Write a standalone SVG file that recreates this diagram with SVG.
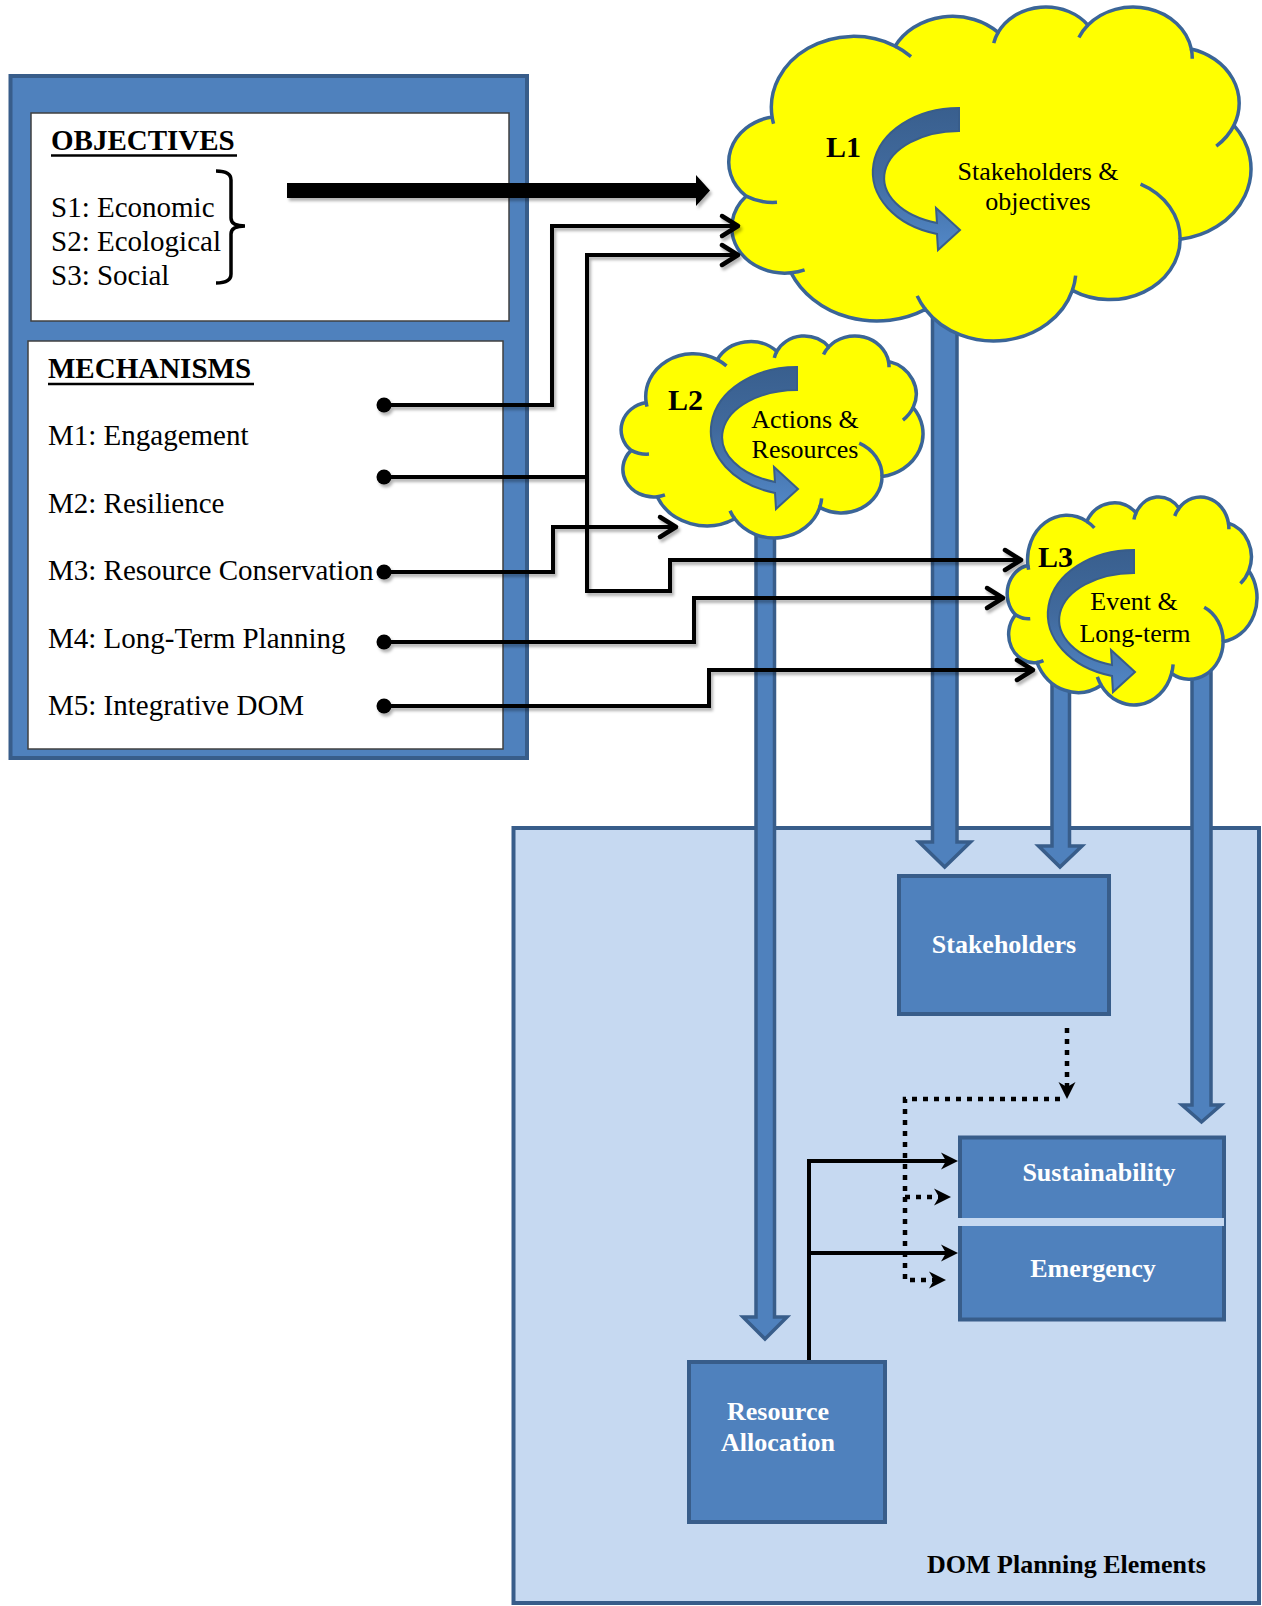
<svg xmlns="http://www.w3.org/2000/svg" width="1262" height="1606" viewBox="0 0 1262 1606">
  <style>
    text { font-family: 'Liberation Serif', 'Times New Roman', serif; fill: #000; }
    .panel-text { font-size: 29px; }
    .heading { font-size: 29px; font-weight: bold; }
    .uline { stroke: #000; stroke-width: 2.5; }
    .frame { fill: #4F81BD; stroke: #385D8A; stroke-width: 4; }
    .white-box { fill: #FFFFFF; stroke: #404040; stroke-width: 1.5; }
    .cloud { fill: #FFFF00; stroke: #3B6597; stroke-width: 3.5; }
    .crease { fill: none; stroke: #3B6597; stroke-width: 3.5; }
    .loop { fill: url(#loopGrad); stroke: #385D8A; stroke-width: 2; }
    .cloud-label { font-size: 30px; font-weight: bold; }
    .cloud-text { font-size: 26px; text-anchor: middle; }
    .block-arrow { fill: #4F81BD; stroke: #385D8A; stroke-width: 3.5; stroke-linejoin: miter; }
    .element { fill: #4F81BD; stroke: #385D8A; stroke-width: 4; }
    .box-text { font-size: 26px; font-weight: bold; fill: #FFFFFF; text-anchor: middle; }
    .link { fill: none; stroke: #000; stroke-width: 4; stroke-linejoin: miter; }
    .dotted { fill: none; stroke: #000; stroke-width: 4.5; stroke-dasharray: 5 6; }
  </style>
  <defs>
    <!-- cloud outline in a 432 x 432 unit box -->
    <path id="cloudBody" vector-effect="non-scaling-stroke" d="M39,143.7 A67.53,91.9 0 0 1 140.05,52.02 A53.33,72.67 0 0 1 224.58,34.33 A43.65,59.45 0 0 1 298.34,24.79 A48.57,65.95 0 0 1 383.2,55.74 A53.33,72.73 0 0 1 418.2,154.58 A67.75,92.2 0 0 1 374.06,302.01 A57.85,78.67 0 0 1 285.57,368.11 A67.52,92.15 0 0 1 164.83,392.64 A77.2,105.43 0 0 1 54.59,345.41 A43.6,59.18 0 0 1 17.67,246.21 A43.45,59.45 0 0 1 39,143.7 Z"/>
    <!-- short inner arcs where the cloud bumps meet -->
    <path id="cloudCreases" vector-effect="non-scaling-stroke" d="M43.01,254.18 A43.45,59.45 0 0 1 17.67,246.21 M65.68,341.59 A43.6,59.18 0 0 1 54.59,345.41 M164.83,392.64 A67.52,92.15 0 0 1 158.14,375.23 M288.24,349.02 A67.52,92.15 0 0 1 285.57,368.11 M341.54,230.65 A57.85,78.67 0 0 1 374.06,302.01 M418.2,154.58 A53.33,72.73 0 0 1 403.71,181.35 M383.2,55.74 A48.57,65.95 0 0 1 383.96,68.38 M290.92,40.92 A48.57,65.95 0 0 1 298.34,24.79 M220.99,48.22 A43.65,59.45 0 0 1 224.58,34.33 M140.05,52.02 A67.53,91.9 0 0 1 153.07,65.53 M40.22,152.61 A67.53,91.9 0 0 1 39,143.7"/>
    <linearGradient id="loopGrad" x1="0" y1="0" x2="0" y2="1">
      <stop offset="0" stop-color="#395F8E"/>
      <stop offset="0.45" stop-color="#416A9D"/>
      <stop offset="1" stop-color="#5288C8"/>
    </linearGradient>
    <!-- curved loop arrow, origin at the outer corner of its flat end -->
    <path id="loopArrow" d="M0,0 A86,64 0 0 0 -22,125.9 L-21,142 L1,122 L-23,100 L-22,114.9 A75,47 0 0 1 0,23 Z"/>
    <marker id="chevron" markerUnits="userSpaceOnUse" viewBox="-22 -14 26 28" markerWidth="26" markerHeight="28" refX="0" refY="0" orient="auto" overflow="visible">
      <path d="M-16,-10 L0,0 L-16,10" fill="none" stroke="#000" stroke-width="4.5" stroke-linecap="round" stroke-linejoin="round"/>
    </marker>
    <marker id="dot" markerUnits="userSpaceOnUse" viewBox="-9 -9 18 18" markerWidth="18" markerHeight="18" refX="0" refY="0" overflow="visible">
      <circle cx="0" cy="0" r="7.5" fill="#000"/>
    </marker>
    <marker id="stealth" markerUnits="userSpaceOnUse" viewBox="-20 -10 22 20" markerWidth="22" markerHeight="20" refX="-6" refY="0" orient="auto" overflow="visible">
      <path d="M0,0 L-17,-8.5 L-12,0 L-17,8.5 Z" fill="#000"/>
    </marker>
    <filter id="lineShadow" filterUnits="userSpaceOnUse" x="0" y="0" width="1262" height="1606">
      <feDropShadow dx="2" dy="3" stdDeviation="1.6" flood-color="#000" flood-opacity="0.3"/>
    </filter>
  </defs>

  <!-- DOM planning area -->
  <g id="dom-area">
    <rect x="513.5" y="828" width="745.5" height="775" fill="#C6D9F1" stroke="#385D8A" stroke-width="4"/>
    <text x="927" y="1573" font-size="26" font-weight="bold">DOM Planning Elements</text>
  </g>

  <!-- block arrows from the levels down into the planning elements -->
  <g id="level-flows">
    <path class="block-arrow" d="M932.5,290 V842 H919 L944.7,867 L970.5,842 H957 V290 Z"/>
    <path class="block-arrow" d="M756,515 V1317 H743 L765,1339 L787,1317 H774.5 V515 Z"/>
    <path class="block-arrow" d="M1052,665 V846 H1038.5 L1060,867 L1082,846 H1069.5 V665 Z"/>
    <path class="block-arrow" d="M1192,650 V1105 H1182 L1201.5,1122 L1221,1105 H1211 V650 Z"/>
  </g>

  <!-- level clouds -->
  <g id="cloud-L1">
    <use href="#cloudBody" class="cloud" transform="translate(724.6,5.9) scale(1.2179,0.7728)"/>
    <use href="#cloudCreases" class="crease" transform="translate(724.6,5.9) scale(1.2179,0.7728)"/>
    <use href="#loopArrow" class="loop" transform="translate(959,108)"/>
    <text class="cloud-label" x="826" y="157">L1</text>
    <text class="cloud-text" x="1038" y="180">Stakeholders &amp;</text>
    <text class="cloud-text" x="1038" y="210">objectives</text>
  </g>
  <g id="cloud-L2">
    <use href="#cloudBody" class="cloud" transform="translate(618.7,335.3) scale(0.7041,0.4674)"/>
    <use href="#cloudCreases" class="crease" transform="translate(618.7,335.3) scale(0.7041,0.4674)"/>
    <use href="#loopArrow" class="loop" transform="translate(797,367)"/>
    <text class="cloud-label" x="668" y="410">L2</text>
    <text class="cloud-text" x="805" y="428">Actions &amp;</text>
    <text class="cloud-text" x="805" y="458">Resources</text>
  </g>
  <g id="cloud-L3">
    <use href="#cloudBody" class="cloud" transform="translate(1005.2,496.3) scale(0.5826,0.4813)"/>
    <use href="#cloudCreases" class="crease" transform="translate(1005.2,496.3) scale(0.5826,0.4813)"/>
    <use href="#loopArrow" class="loop" transform="translate(1134,550)"/>
    <text class="cloud-label" x="1038" y="567">L3</text>
    <text class="cloud-text" x="1134" y="610">Event &amp;</text>
    <text class="cloud-text" x="1135" y="642">Long-term</text>
  </g>

  <!-- objectives and mechanisms panel -->
  <g id="panel">
    <rect class="frame" x="10.5" y="76" width="516.5" height="682"/>
    <g id="objectives">
      <rect class="white-box" x="31" y="113" width="478" height="208"/>
      <text class="heading" x="51" y="150">OBJECTIVES</text>
      <line class="uline" x1="51" y1="155.5" x2="237" y2="155.5"/>
      <text class="panel-text" x="51" y="217">S1: Economic</text>
      <text class="panel-text" x="51" y="251">S2: Ecological</text>
      <text class="panel-text" x="51" y="285">S3: Social</text>
      <path d="M216,171 Q231,171 231,180 V218 Q231,226 245,226 Q231,226 231,234 V274 Q231,283 216,283" fill="none" stroke="#000" stroke-width="3.5"/>
    </g>
    <g id="mechanisms">
      <rect class="white-box" x="28" y="341" width="475" height="408"/>
      <text class="heading" x="48" y="378">MECHANISMS</text>
      <line class="uline" x1="48" y1="384" x2="254" y2="384"/>
      <text class="panel-text" x="48" y="445">M1: Engagement</text>
      <text class="panel-text" x="48" y="513">M2: Resilience</text>
      <text class="panel-text" x="48" y="580">M3: Resource Conservation</text>
      <text class="panel-text" x="48" y="648">M4: Long-Term Planning</text>
      <text class="panel-text" x="48" y="715">M5: Integrative DOM</text>
    </g>
  </g>

  <!-- planning element boxes -->
  <g id="stakeholders">
    <rect class="element" x="899" y="876" width="210" height="138"/>
    <text class="box-text" x="1004" y="953">Stakeholders</text>
  </g>
  <g id="sustainability-emergency">
    <rect class="element" x="960" y="1137.5" width="264" height="182"/>
    <line x1="958" y1="1222" x2="1224" y2="1222" stroke="#C6D9F1" stroke-width="8"/>
    <text class="box-text" x="1099" y="1181">Sustainability</text>
    <text class="box-text" x="1093" y="1277">Emergency</text>
  </g>
  <g id="resource-allocation">
    <rect class="element" x="689" y="1362" width="196" height="160"/>
    <text class="box-text" x="778" y="1420">Resource</text>
    <text class="box-text" x="778" y="1451">Allocation</text>
  </g>

  <!-- connectors -->
  <g id="connectors">
    <g id="mechanism-links" filter="url(#lineShadow)">
      <path d="M287,183 H696 V175 L710,190.5 L696,206 V198 H287 Z" fill="#000"/>
      <path class="link" d="M384,405 H552 V226 H738" marker-start="url(#dot)" marker-end="url(#chevron)"/>
      <path class="link" d="M384,477 H587 V255 H738" marker-start="url(#dot)" marker-end="url(#chevron)"/>
      <path class="link" d="M587,477 V591 H670 V560 H1021" marker-end="url(#chevron)"/>
      <path class="link" d="M384,572 H553 V527 H676" marker-start="url(#dot)" marker-end="url(#chevron)"/>
      <path class="link" d="M384,642 H694 V598 H1003" marker-start="url(#dot)" marker-end="url(#chevron)"/>
      <path class="link" d="M384,706 H709 V670 H1033" marker-start="url(#dot)" marker-end="url(#chevron)"/>
    </g>
    <g id="element-links">
      <path class="link" d="M809,1360 V1161 H952" marker-end="url(#stealth)"/>
      <path class="link" d="M809,1253 H952" marker-end="url(#stealth)"/>
      <path class="dotted" d="M1067,1028 V1093" marker-end="url(#stealth)"/>
      <path class="dotted" d="M1060,1099 H905 V1280 H940" marker-end="url(#stealth)"/>
      <path class="dotted" d="M905,1197 H945" marker-end="url(#stealth)"/>
    </g>
  </g>
</svg>
